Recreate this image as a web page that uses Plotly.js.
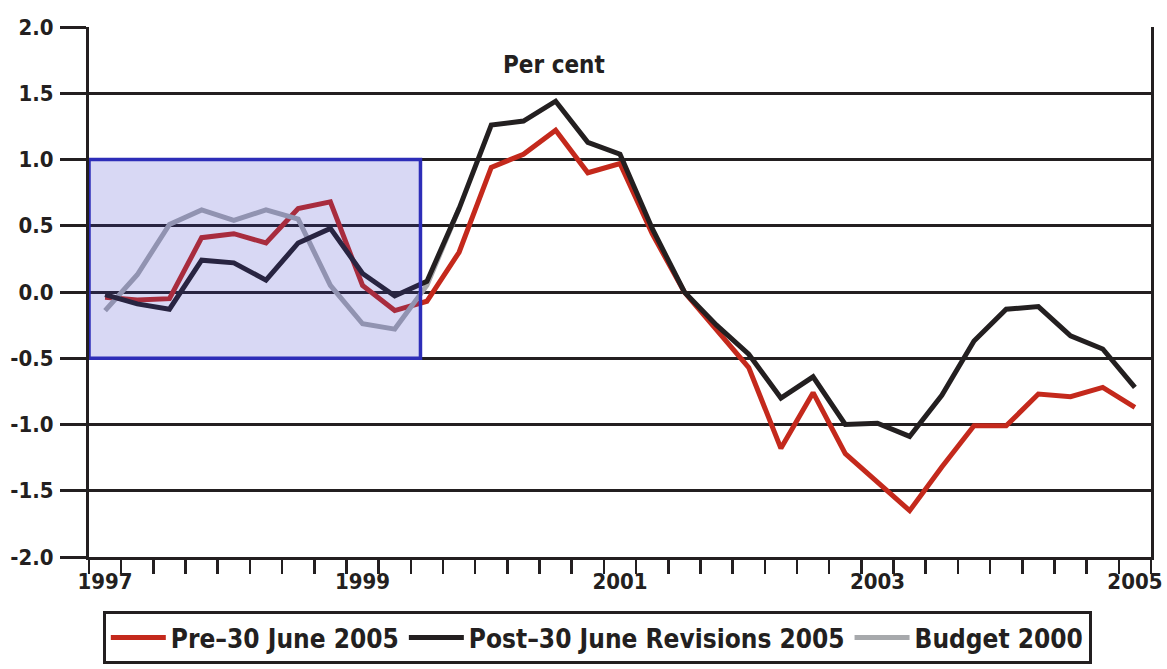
<!DOCTYPE html>
<html>
<head>
<meta charset="utf-8">
<script src="https://cdn.plot.ly/plotly-3.0.1.min.js"></script>
<style>
html,body{margin:0;padding:0;background:#fff;}
#chart{width:1167px;height:669px;}
</style>
</head>
<body>
<div id="chart"></div>
<script>
// Quarterly categories, 1997Q1 to 2005Q1
const quarters = [
  "1997Q1","1997Q2","1997Q3","1997Q4",
  "1998Q1","1998Q2","1998Q3","1998Q4",
  "1999Q1","1999Q2","1999Q3","1999Q4",
  "2000Q1","2000Q2","2000Q3","2000Q4",
  "2001Q1","2001Q2","2001Q3","2001Q4",
  "2002Q1","2002Q2","2002Q3","2002Q4",
  "2003Q1","2003Q2","2003Q3","2003Q4",
  "2004Q1","2004Q2","2004Q3","2004Q4",
  "2005Q1"
];
const labelYears = ["1997","1999","2001","2003","2005"];
const xTickText = quarters.map(q => (q.endsWith("Q1") && labelYears.includes(q.slice(0,4))) ? q.slice(0,4) : "");

const pre2005 = [
  -0.04,-0.06,-0.05,0.41,
  0.44,0.37,0.63,0.68,
  0.05,-0.14,-0.07,0.30,
  0.94,1.04,1.22,0.90,
  0.97,0.44,0.00,-0.28,
  -0.57,-1.18,-0.76,-1.22,
  -1.44,-1.65,-1.32,-1.01,
  -1.01,-0.77,-0.79,-0.72,
  -0.87
];
const post2005 = [
  -0.02,-0.09,-0.13,0.24,
  0.22,0.09,0.37,0.48,
  0.14,-0.03,0.08,0.63,
  1.26,1.29,1.44,1.13,
  1.04,0.48,0.00,-0.25,
  -0.47,-0.80,-0.64,-1.00,
  -0.99,-1.09,-0.78,-0.37,
  -0.13,-0.11,-0.33,-0.43,
  -0.72
];
const budget2000 = [
  -0.14,0.13,0.51,0.62,
  0.54,0.62,0.55,0.05,
  -0.24,-0.28,0.05,0.63
];
const seriesNames = ["Pre–30 June 2005","Post–30 June Revisions 2005","Budget 2000"];
const yTickVals = [-2.0,-1.5,-1.0,-0.5,0.0,0.5,1.0,1.5,2.0];
const yTickText = ["-2.0","-1.5","-1.0","-0.5","0.0","0.5","1.0","1.5","2.0"];

const DARK = "#231f20";
const FONT = "'DejaVu Sans Condensed', 'DejaVu Sans', sans-serif";

const traces = [
  {x: quarters, y: pre2005, name: seriesNames[0], type: "scatter", mode: "lines",
   line: {color: "#c4291c", width: 5}, legendrank: 1},
  {x: quarters.slice(0, budget2000.length), y: budget2000, name: seriesNames[2], type: "scatter", mode: "lines",
   line: {color: "#a7a9ac", width: 5}, legendrank: 3},
  {x: quarters, y: post2005, name: seriesNames[1], type: "scatter", mode: "lines",
   line: {color: DARK, width: 5}, legendrank: 2}
];

const layout = {
  width: 1167, height: 669,
  margin: {l: 89, r: 16, t: 27, b: 112, autoexpand: false},
  paper_bgcolor: "#fff", plot_bgcolor: "#fff",
  font: {family: FONT, color: DARK, size: 22},
  showlegend: true,
  legend: {
    orientation: "h", x: 0.013, xanchor: "left", y: -0.102, yanchor: "top",
    bordercolor: DARK, borderwidth: 3, bgcolor: "#fff",
    font: {family: FONT, size: 26, color: DARK, weight: "bold"},
    itemwidth: 55, tracegroupgap: 0
  },
  xaxis: {
    type: "category", range: [-0.5, 32.5], fixedrange: true,
    tickvals: quarters, ticktext: xTickText, tickson: "boundaries",
    ticks: "outside", ticklen: 14, tickwidth: 2.5, tickcolor: DARK,
    showline: true, linecolor: DARK, linewidth: 3, mirror: false,
    showgrid: false, zeroline: false,
    tickfont: {family: FONT, size: 22, color: DARK, weight: "bold"},
    tickangle: 0, ticklabelstandoff: 3
  },
  yaxis: {
    range: [-2.0, 2.0], fixedrange: true,
    tickvals: yTickVals, ticktext: yTickText,
    ticks: "outside", ticklen: 26, tickwidth: 3, tickcolor: DARK,
    showline: true, linecolor: DARK, linewidth: 3, mirror: true,
    showgrid: true, gridcolor: DARK, gridwidth: 3, zeroline: false,
    tickfont: {family: FONT, size: 22, color: DARK, weight: "bold"},
    ticklabelstandoff: 2
  },
  shapes: [{
    type: "rect", xref: "x", yref: "y", x0: -0.5, x1: 9.8, y0: -0.5, y1: 1.0,
    fillcolor: "rgba(60,60,200,0.2)", line: {color: "#2d2db8", width: 3.5}, layer: "above"
  }],
  annotations: [{
    text: "<b>Per cent</b>", xref: "paper", yref: "paper", x: 0.438, y: 0.928,
    xanchor: "center", yanchor: "middle",
    showarrow: false, font: {family: FONT, size: 24, color: DARK}
  }]
};

Plotly.newPlot("chart", traces, layout, {displayModeBar: false, staticPlot: true});
</script>
</body>
</html>
